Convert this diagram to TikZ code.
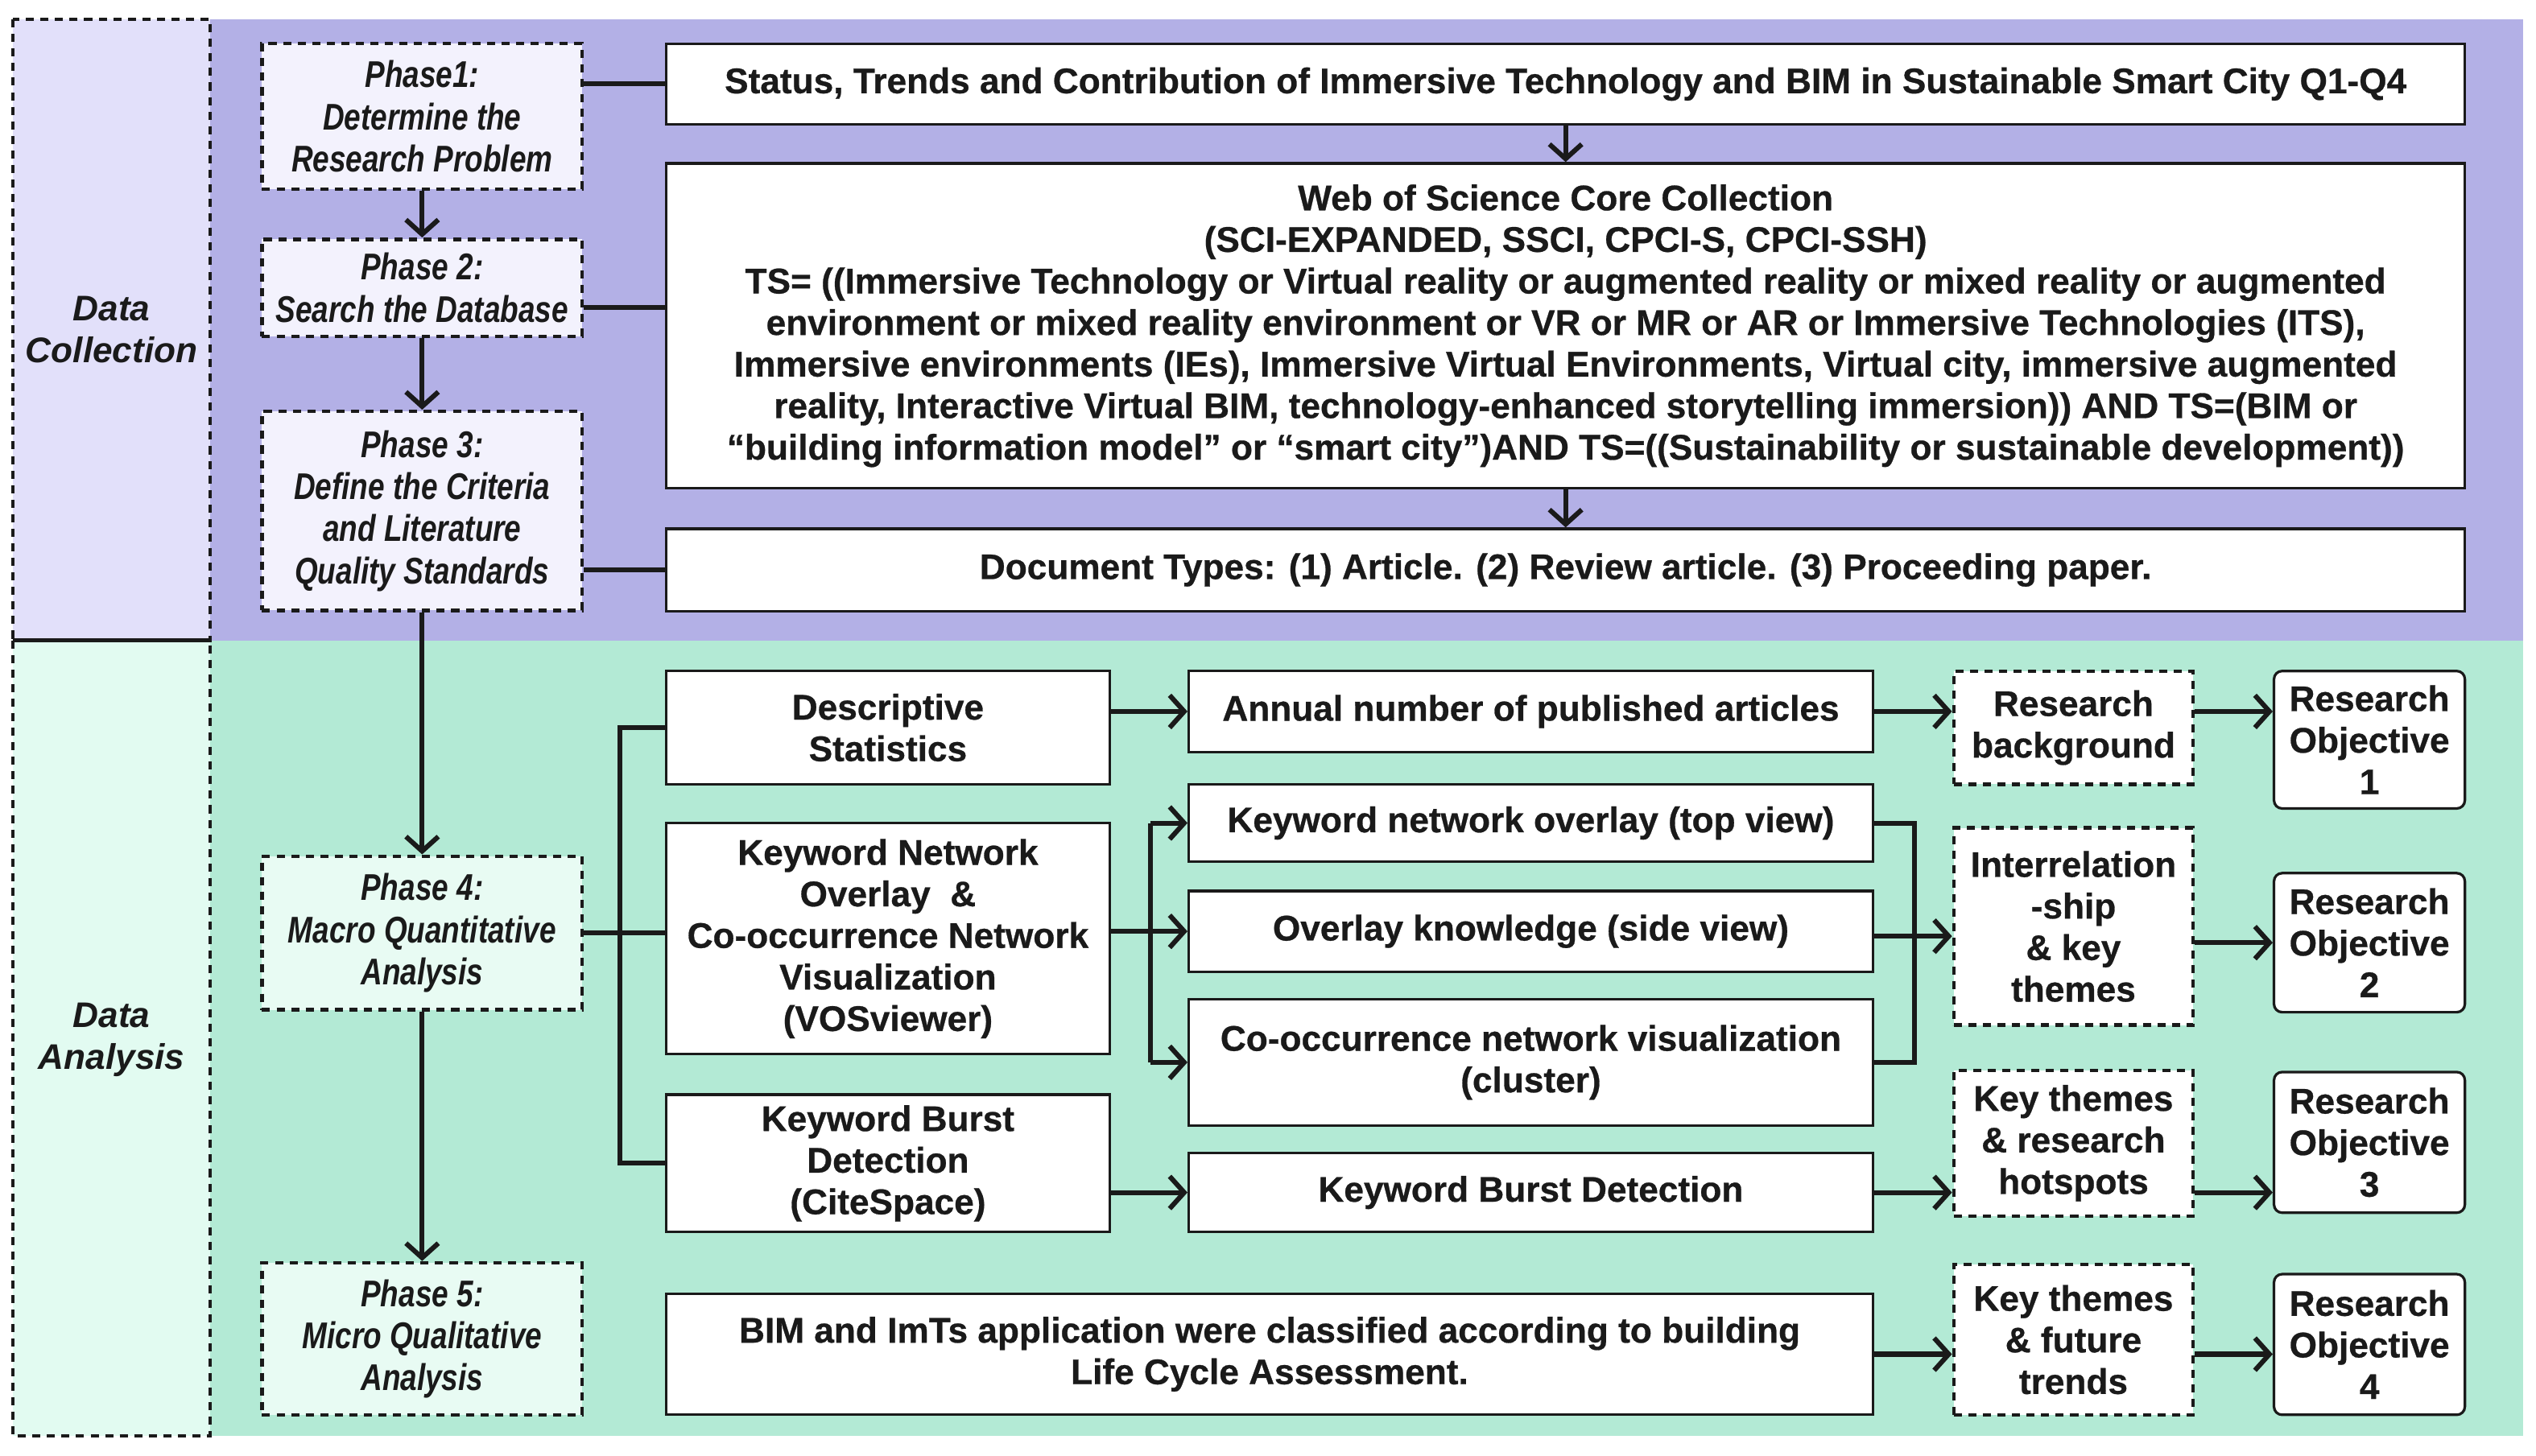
\documentclass[tikz,border=0pt]{standalone}
\usepackage{fontspec}
\setmainfont{Liberation Sans}[BoldFeatures={FakeBold=0.6}]
\newfontfamily\narrowit{Liberation Sans}[FakeStretch=0.8]
\usetikzlibrary{arrows.meta}
\definecolor{topband}{HTML}{B3B0E6}
\definecolor{topleft}{HTML}{E2E0FA}
\definecolor{topphase}{HTML}{F3F2FD}
\definecolor{botband}{HTML}{B3EAD5}
\definecolor{botleft}{HTML}{E2FBF1}
\definecolor{botphase}{HTML}{E8FBF3}
\definecolor{ink}{HTML}{1A1A1A}
\begin{document}
\begin{tikzpicture}[x=1pt,y=-1pt,
  every node/.style={font=\fontsize{22}{25.7}\selectfont\bfseries, align=center, inner sep=0pt, text=ink},
  box/.style={draw=ink, line width=1.6pt, fill=white},
  phase/.style={draw=ink, line width=2.2pt, dash pattern=on 5pt off 4pt, font=\fontsize{23}{26}\selectfont\narrowit\bfseries\itshape},
  dbox/.style={draw=ink, line width=2.2pt, dash pattern=on 5pt off 4pt, fill=white},
  obj/.style={draw=ink, line width=1.6pt, fill=white, rounded corners=5pt},
  ln/.style={draw=ink, line width=3pt},
  arr/.style={ln, -{Straight Barb[length=9pt,width=20pt,line width=3pt]}}]
\useasboundingbox (0,0) rectangle (1568,900);
\fill[white] (0,0) rectangle (1568,900);
% bands
\fill[topband] (130,12) rectangle (1560,396);
\fill[botband] (130,396) rectangle (1560,888);
\fill[topleft] (8,12) rectangle (130,396);
\fill[botleft] (8,396) rectangle (130,888);
\draw[ink, line width=2.2pt, dash pattern=on 5pt off 4pt] (8,12) rectangle (130,396);
\draw[ink, line width=2.2pt, dash pattern=on 5pt off 4pt] (8,396) rectangle (130,888);
\node[font=\fontsize{22}{26}\selectfont\bfseries\itshape] (dc) at (69,204) {Data\\Collection};
\node[font=\fontsize{22}{26}\selectfont\bfseries\itshape] (da) at (69,643) {Data\\Analysis};
% phases
\node[phase, fill=topphase, minimum width=198pt, minimum height=90pt] (p1) at (261,72) {Phase1:\\Determine the\\Research Problem};
\node[phase, fill=topphase, minimum width=198pt, minimum height=60pt] (p2) at (261,178) {Phase 2:\\Search the Database};
\node[phase, fill=topphase, minimum width=198pt, minimum height=123pt] (p3) at (261,316) {Phase 3:\\Define the Criteria\\and Literature\\Quality Standards};
\node[phase, fill=botphase, minimum width=198pt, minimum height=95pt] (p4) at (261,577) {Phase 4:\\Macro Quantitative\\Analysis};
\node[phase, fill=botphase, minimum width=198pt, minimum height=94pt] (p5) at (261,828) {Phase 5:\\Micro Qualitative\\Analysis};
% top boxes
\node[box, minimum width=1112pt, minimum height=50pt] (st) at (968,52) {Status, Trends and Contribution of Immersive Technology and BIM in Sustainable Smart City Q1-Q4};
\node[box, minimum width=1112pt, minimum height=201pt] (wos) at (968,201.5) {Web of Science Core Collection\\(SCI-EXPANDED, SSCI, CPCI-S, CPCI-SSH)\\TS= ((Immersive Technology or Virtual reality or augmented reality or mixed reality or augmented\\environment or mixed reality environment or VR or MR or AR or Immersive Technologies (ITS),\\Immersive environments (IEs), Immersive Virtual Environments, Virtual city, immersive augmented\\reality, Interactive Virtual BIM, technology-enhanced storytelling immersion)) AND TS=(BIM or\\“building information model” or “smart city”)AND TS=((Sustainability or sustainable development))};
\node[box, minimum width=1112pt, minimum height=51pt] (doc) at (968,352.5) {Document Types: (1) Article. (2) Review article. (3) Proceeding paper.};
% bottom boxes
\node[box, minimum width=274pt, minimum height=70pt] (desc) at (549,450) {Descriptive\\Statistics};
\node[box, minimum width=274pt, minimum height=143pt] (kn) at (549,580.5) {Keyword Network\\Overlay~~\&\\Co-occurrence Network\\Visualization\\(VOSviewer)};
\node[box, minimum width=274pt, minimum height=85pt] (kb) at (549,719.5) {Keyword Burst\\Detection\\(CiteSpace)};
\node[box, minimum width=423pt, minimum height=50pt] (ann) at (946.5,440) {Annual number of published articles};
\node[box, minimum width=423pt, minimum height=48pt] (kwo) at (946.5,509) {Keyword network overlay (top view)};
\node[box, minimum width=423pt, minimum height=50pt] (ok) at (946.5,576) {Overlay knowledge (side view)};
\node[box, minimum width=423pt, minimum height=78pt] (co) at (946.5,657) {Co-occurrence network visualization\\(cluster)};
\node[box, minimum width=423pt, minimum height=49pt] (kbd) at (946.5,737.5) {Keyword Burst Detection};
\node[box, minimum width=746pt, minimum height=75pt] (bim) at (785,837.5) {BIM and ImTs application were classified according to building\\Life Cycle Assessment.};
\node[dbox, minimum width=148pt, minimum height=70pt] (rb) at (1282,450) {Research\\background};
\node[dbox, minimum width=148pt, minimum height=122pt] (ir) at (1282,573) {Interrelation\\-ship\\\& key\\themes};
\node[dbox, minimum width=148pt, minimum height=90pt] (kh) at (1282,707) {Key themes\\\& research\\hotspots};
\node[dbox, minimum width=148pt, minimum height=93pt] (kf) at (1282,828.5) {Key themes\\\& future\\trends};
\node[obj, minimum width=118pt, minimum height=85pt] (ro1) at (1465,457.5) {Research\\Objective\\1};
\node[obj, minimum width=118pt, minimum height=86pt] (ro2) at (1465,583) {Research\\Objective\\2};
\node[obj, minimum width=118pt, minimum height=87pt] (ro3) at (1465,706.5) {Research\\Objective\\3};
\node[obj, minimum width=118pt, minimum height=87pt] (ro4) at (1465,831.5) {Research\\Objective\\4};
% phase flow
\draw[arr] (p1.south) -- (p2.north);
\draw[arr] (p2.south) -- (p3.north);
\draw[arr] (p3.south) -- (p4.north);
\draw[arr] (p4.south) -- (p5.north);
% top connectors
\draw[ln] (p1.east |- st) -- (st.west);
\draw[ln] ([yshift=-12pt]p2.east) -- ([yshift=-12pt]p2.east -| wos.west);
\draw[ln] (p3.east |- doc) -- (doc.west);
\draw[arr] (st.south) -- (wos.north);
\draw[arr] (wos.south) -- (doc.north);
% phase 4 bracket
\draw[ln] (p4.east) -- (p4.east -| kn.west);
\draw[ln] (desc.west) -- ++(-28,0) coordinate (bt) |- (kb.west);
% middle arrows
\draw[arr] (desc.east |- ann) -- (ann.west);
\draw[arr] (kn.east |- ok) -- (ok.west);
\draw[ln] ([xshift=-23pt]kwo.west) coordinate (sp) -- (sp |- co.west);
\draw[arr] (sp) -- (kwo.west);
\draw[arr] (sp |- co.west) -- (co.west);
\draw[arr] (kb.east |- kbd) -- (kbd.west);
% right side
\draw[ln] (kwo.east) -- ++(25,0) |- (co.east);
\draw[arr] ([yshift=-3pt]ok.east) -- ([yshift=-3pt]ok.east -| ir.west);
\draw[arr] (ann.east) -- (ann.east -| rb.west);
\draw[arr] (rb.east |- ann) -- (ro1.west |- ann);
\draw[arr] (ir.east |- ro2) -- (ro2.west);
\draw[arr] (kbd.east) -- (kbd.east -| kh.west);
\draw[arr] (kh.east |- kbd) -- (ro3.west |- kbd);
\draw[arr] (bim.east) -- (bim.east -| kf.west);
\draw[arr] (kf.east |- bim) -- (ro4.west |- bim);
\end{tikzpicture}
\end{document}
